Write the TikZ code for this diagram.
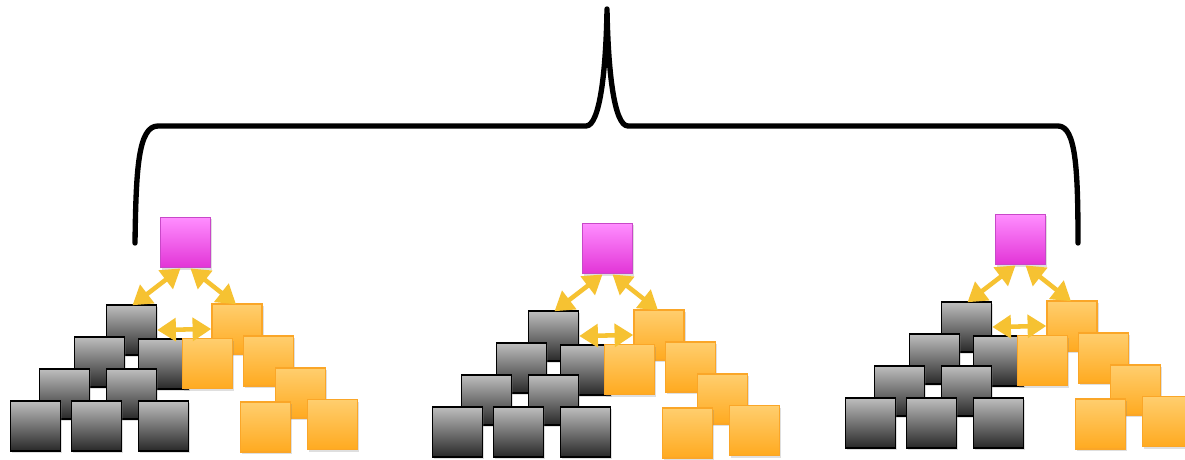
\documentclass[tikz,border=0pt]{standalone}
\usetikzlibrary{arrows.meta,shadows,calc}
\definecolor{arrowc}{RGB}{246,194,50}
\definecolor{graytop}{RGB}{190,190,190}
\definecolor{graymid}{RGB}{160,160,160}
\definecolor{graybot}{RGB}{40,40,40}
\definecolor{ortop}{RGB}{255,206,110}
\definecolor{orbot}{RGB}{255,170,32}
\definecolor{orline}{RGB}{250,166,40}
\definecolor{magtop}{RGB}{255,142,255}
\definecolor{magbot}{RGB}{226,52,214}
\definecolor{magline}{RGB}{200,72,200}
\tikzset{
  sq/.style={rectangle, inner sep=0pt, minimum size=37.5pt,
    drop shadow={shadow xshift=1.2pt, shadow yshift=-1.5pt, opacity=0.25}},
  graysq/.style={sq, draw=black, line width=1.1pt,
    top color=graytop, middle color=graymid, bottom color=graybot},
  orsq/.style={sq, draw=orline, line width=1.1pt,
    top color=ortop, bottom color=orbot},
  magsq/.style={sq, minimum size=38pt, draw=magline, line width=0.9pt,
    top color=magtop, bottom color=magbot},
  dblarrow/.style={{Triangle[width=17pt,length=14pt]}-{Triangle[width=17pt,length=14pt]},
    line width=3.4pt, draw=arrowc},
  bracestyle/.style={draw=black, line width=4pt, line cap=round, line join=round}
}
\newcommand\drawgroup[3]{%
\begin{scope}[shift={(#2,#3)}]
  \node[magsq] (#1m) at (185.5,242.5) {};
  % gray pyramid
  \node[graysq] (#1ga) at (131.5,330) {};
  \node[graysq] (#1gb) at (99.5,362) {};
  \node[graysq] (#1gc) at (163.5,364) {};
  \node[graysq] (#1gd) at (64.5,394) {};
  \node[graysq] (#1ge) at (131.5,394) {};
  \node[graysq] (#1gf) at (35.5,426) {};
  \node[graysq] (#1gg) at (96.5,426) {};
  \node[graysq] (#1gh) at (163.5,426) {};
  % orange pyramid
  \node[orsq] (#1oa) at (237,329) {};
  \node[orsq] (#1ob) at (207.5,363.5) {};
  \node[orsq] (#1oc) at (268.5,361) {};
  \node[orsq] (#1od) at (300.5,393) {};
  \node[orsq] (#1oe) at (265.5,427) {};
  \node[orsq] (#1of) at (332.5,424.5) {};
  % arrows
  \draw[dblarrow] ($(#1m.south)+(-5,0)$) -- ($(#1ga.north)+(1,1)$);
  \draw[dblarrow] ($(#1m.south)+(5,0)$) -- ($(#1oa.north)+(-1,1)$);
  \draw[dblarrow] (#1ga.east) -- (#1oa.west);
\end{scope}}
\begin{document}
\begin{tikzpicture}[x=0.75pt,y=-0.75pt]
\useasboundingbox (0,0) rectangle (1185,460);
\fill[white] (0,0) rectangle (1185,460);
\coordinate (bl) at (135,243);
\coordinate (tip) at (607,9);
\coordinate (br) at (1078,243);
\draw[bracestyle] (bl) .. controls (136,170) and (138,126) .. (158,126)
  -- (586,126) .. controls (600,126) and (606,70) .. (tip)
  .. controls (608,70) and (614,126) .. (628,126)
  -- (1058,126) .. controls (1076,126) and (1078,170) .. (br);
\drawgroup{g1}{0}{0}
\drawgroup{g2}{422}{6}
\drawgroup{g3}{835}{-3}
\end{tikzpicture}
\end{document}
